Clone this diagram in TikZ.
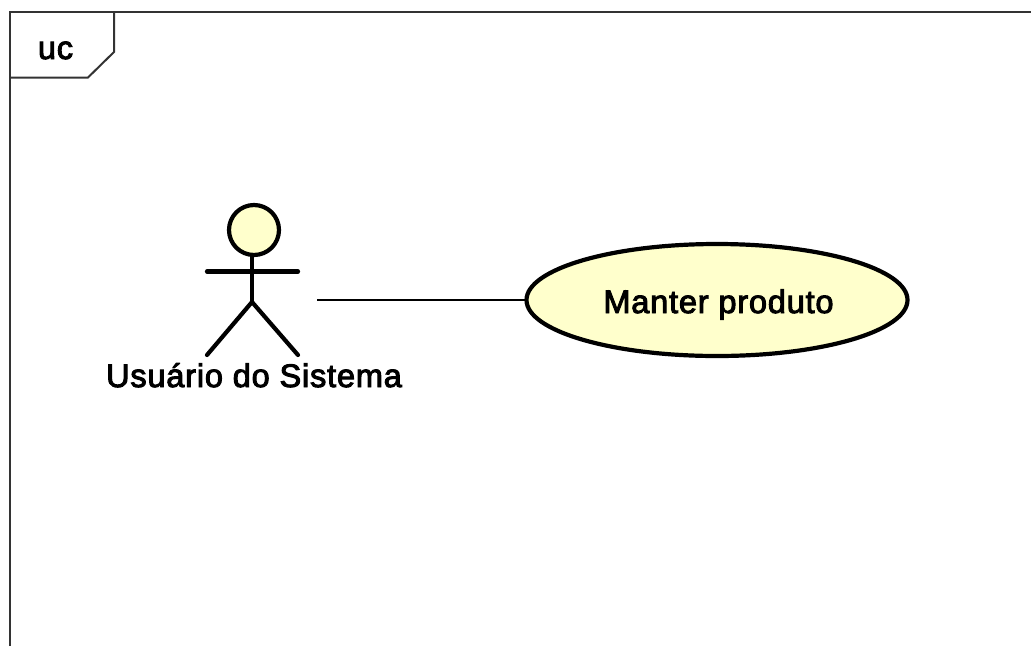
\documentclass[tikz,border=0pt]{standalone}
\usepackage{fontspec}
\setmainfont{Liberation Sans}
\newfontfamily\labelfont[FakeBold=3,LetterSpace=2.5]{Liberation Sans}
\definecolor{ucfill}{HTML}{FFFFCC}
\definecolor{framecol}{HTML}{333333}
\tikzset{
  frameline/.style={draw=framecol,line width=2pt},
  actorline/.style={draw=black,line width=4.2pt,line cap=round},
  ucshape/.style={ellipse,draw=black,fill=ucfill,line width=4.2pt,inner sep=0pt,minimum width=381pt,minimum height=112pt},
  lbl/.style={font=\labelfont\fontsize{32.5}{38}\selectfont,text=black,inner sep=0pt,anchor=base},
}
\usetikzlibrary{shapes.geometric}
\begin{document}
\begin{tikzpicture}[x=1pt,y=-1pt]
\useasboundingbox (0,0) rectangle (1031,646);
\path[frameline] (10,646) -- (10,11.5) -- (1031,11.5);
\path[frameline] (114,11.5) -- (114,52) -- (88,77.5) -- (10,77.5);
\node[lbl] (frametitle) at (55.5,59) {uc};
\draw[black,line width=1.8pt] (317,300) coordinate (actorend) -- (526,300) coordinate (ucend);
\node[ucshape] (usecase) at (717,300) {};
\node[lbl] (uctext) at (718.5,313) {Manter produto};
\draw[actorline,line cap=butt] (252,255) -- (252,302);
\draw[actorline] (207,271.5) -- (298,271.5);
\draw[actorline] (207,355) -- (252,302) -- (298,355);
\node[circle,draw=black,fill=ucfill,line width=4.2pt,minimum size=50pt,inner sep=0pt] (head) at (254,230) {};
\node[lbl] (actorlabel) at (254,387) {Usuário do Sistema};
\end{tikzpicture}
\end{document}
